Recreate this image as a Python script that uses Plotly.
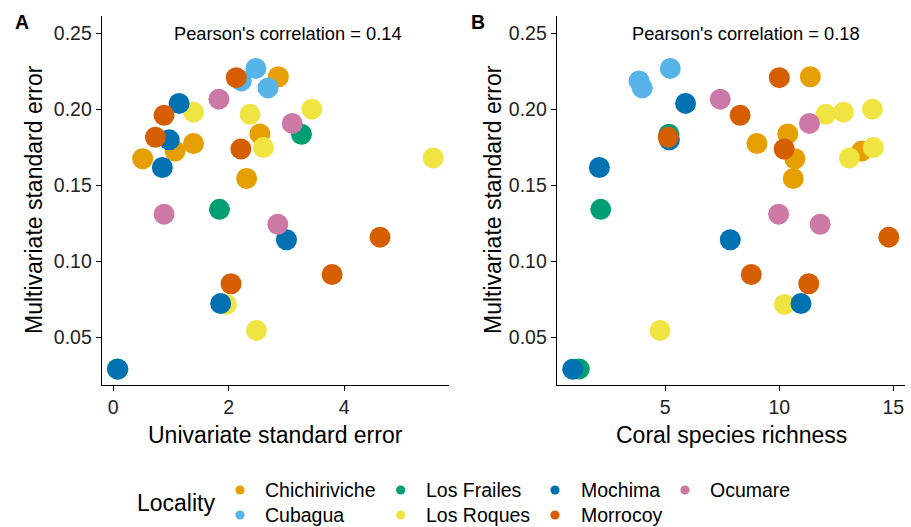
import plotly.graph_objects as go

# ---------------- data ----------------
localities = ["Chichiriviche", "Cubagua", "Los Frailes", "Los Roques",
              "Mochima", "Morrocoy", "Ocumare"]
colors = ["#E69F00", "#56B4E9", "#009E73", "#F0E442", "#0072B2", "#D55E00", "#CC79A7"]

chichiriviche_uni = [2.86, 2.54, 1.39, 1.07, 0.51, 2.31]
chichiriviche_rich = [11.36, 10.37, 9.02, 13.61, 10.68, 10.61]
chichiriviche_multi = [0.2214, 0.1838, 0.1775, 0.1725, 0.1675, 0.1545]

cubagua_uni = [2.47, 2.22, 2.68]
cubagua_rich = [5.22, 3.85, 3.99]
cubagua_multi = [0.2269, 0.2187, 0.2141]

losfrailes_uni = [3.26, 1.84, 0.07]
losfrailes_rich = [5.16, 2.17, 1.23]
losfrailes_multi = [0.1836, 0.1342, 0.0292]

losroques_uni = [1.39, 2.37, 3.44, 2.60, 1.96, 2.48, 5.54]
losroques_rich = [12.81, 12.04, 14.08, 14.12, 10.22, 4.77, 13.07]
losroques_multi = [0.1981, 0.1967, 0.2001, 0.1749, 0.0716, 0.0545, 0.1680]

mochima_uni = [1.14, 0.97, 0.85, 3.00, 1.86, 0.08]
mochima_rich = [5.89, 5.18, 2.11, 7.85, 10.95, 0.94]
mochima_multi = [0.2039, 0.1799, 0.1617, 0.1142, 0.0722, 0.0290]

morrocoy_uni = [2.13, 0.88, 0.73, 2.21, 4.62, 3.79, 2.04]
morrocoy_rich = [10.00, 8.28, 5.13, 10.21, 14.80, 8.77, 11.29]
morrocoy_multi = [0.2208, 0.1961, 0.1816, 0.1739, 0.1159, 0.0913, 0.0852]

ocumare_uni = [1.83, 3.10, 0.88, 2.85]
ocumare_rich = [7.41, 11.32, 9.97, 11.79]
ocumare_multi = [0.2067, 0.1907, 0.1310, 0.1244]

uni_by_loc = [chichiriviche_uni, cubagua_uni, losfrailes_uni, losroques_uni,
              mochima_uni, morrocoy_uni, ocumare_uni]
rich_by_loc = [chichiriviche_rich, cubagua_rich, losfrailes_rich, losroques_rich,
               mochima_rich, morrocoy_rich, ocumare_rich]
multi_by_loc = [chichiriviche_multi, cubagua_multi, losfrailes_multi, losroques_multi,
                mochima_multi, morrocoy_multi, ocumare_multi]

corr_labels = ["Pearson's correlation = 0.14", "Pearson's correlation = 0.18"]
panel_labels = ["A", "B"]
x_titles = ["Univariate standard error", "Coral species richness"]
y_title = "Multivariate standard error"
y_ticks = [0.05, 0.10, 0.15, 0.20, 0.25]
xa_ticks = [0, 2, 4]
xb_ticks = [5, 10, 15]
legend_title = "Locality"

# ---------------- figure ----------------
W, H = 911, 527
FONT = "Liberation Sans, Arial, sans-serif"
fig = go.Figure()

for name, col, u, r, m in zip(localities, colors, uni_by_loc, rich_by_loc, multi_by_loc):
    fig.add_trace(go.Scatter(x=u, y=m, mode="markers", name=name, showlegend=False,
                             marker=dict(color=col, size=21, line=dict(width=0)),
                             xaxis="x", yaxis="y"))
    fig.add_trace(go.Scatter(x=r, y=m, mode="markers", name=name, showlegend=False,
                             marker=dict(color=col, size=21, line=dict(width=0)),
                             xaxis="x2", yaxis="y2"))

def px_x(p):
    return p / W

def px_y(p):
    return 1 - p / H

axis_common = dict(showline=True, linecolor="black", linewidth=1.1, mirror=False,
                   ticks="outside", ticklen=5, tickwidth=1.1, tickcolor="black",
                   showgrid=False, zeroline=False,
                   tickfont=dict(family=FONT, size=19.5, color="#222222"))

yrange = [0.0186, 0.2614]
ydom = [px_y(385), px_y(16)]
fig.update_layout(
    width=W, height=H, margin=dict(l=0, r=0, t=0, b=0),
    paper_bgcolor="white", plot_bgcolor="white", showlegend=False,
    xaxis=dict(domain=[px_x(101.7), px_x(449.3)], range=[-0.2, 5.82],
               tickvals=xa_ticks, anchor="y", **axis_common),
    yaxis=dict(domain=ydom, range=yrange, tickvals=y_ticks, tickformat=".2f",
               anchor="x", **axis_common),
    xaxis2=dict(domain=[px_x(556.7), px_x(905)], range=[0.24, 15.51],
                tickvals=xb_ticks, anchor="y2", **axis_common),
    yaxis2=dict(domain=ydom, range=yrange, tickvals=y_ticks, tickformat=".2f",
                anchor="x2", **axis_common),
)

ann = []
# correlation labels
ann.append(dict(x=px_x(287.5), y=px_y(33), xref="paper", yref="paper", text=corr_labels[0],
                showarrow=False, xanchor="center", yanchor="middle",
                font=dict(family=FONT, size=18.3, color="black")))
ann.append(dict(x=px_x(746), y=px_y(33), xref="paper", yref="paper", text=corr_labels[1],
                showarrow=False, xanchor="center", yanchor="middle",
                font=dict(family=FONT, size=18.3, color="black")))
# panel labels
for lab, xp in zip(panel_labels, [21.7, 478]):
    ann.append(dict(x=px_x(xp), y=px_y(22), xref="paper", yref="paper", text="<b>%s</b>" % lab,
                    showarrow=False, xanchor="center", yanchor="middle",
                    font=dict(family=FONT, size=19.5, color="black")))
# axis titles
for t, xp in zip(x_titles, [275.5, 731]):
    ann.append(dict(x=px_x(xp), y=px_y(435), xref="paper", yref="paper", text=t,
                    showarrow=False, xanchor="center", yanchor="middle",
                    font=dict(family=FONT, size=23, color="black")))
for xp in [34, 493]:
    ann.append(dict(x=px_x(xp), y=px_y(200), xref="paper", yref="paper", text=y_title,
                    showarrow=False, xanchor="center", yanchor="middle", textangle=-90,
                    font=dict(family=FONT, size=23, color="black")))
# legend (manual, ggplot column-major layout)
ann.append(dict(x=px_x(135), y=px_y(503), xref="paper", yref="paper", text=legend_title,
                showarrow=False, xanchor="left", yanchor="middle",
                font=dict(family=FONT, size=23, color="black")))
marker_x = [240, 240, 400.7, 400.7, 555, 555, 685]
text_x = [262.5, 262.5, 424.2, 424.2, 579, 579, 708.3]
row_y = [490, 515, 490, 515, 490, 515, 490]
shapes = []
for name, col, mx, tx, ry in zip(localities, colors, marker_x, text_x, row_y):
    ann.append(dict(x=px_x(tx), y=px_y(ry), xref="paper", yref="paper", text=name,
                    showarrow=False, xanchor="left", yanchor="middle",
                    font=dict(family=FONT, size=19.5, color="black")))
    shapes.append(dict(type="circle", xref="paper", yref="paper",
                       xsizemode="pixel", ysizemode="pixel",
                       xanchor=px_x(mx), yanchor=px_y(ry),
                       x0=-4.6, x1=4.6, y0=-4.6, y1=4.6,
                       fillcolor=col, line=dict(width=0)))

fig.update_layout(annotations=ann, shapes=shapes)
fig.write_html("out.html")
